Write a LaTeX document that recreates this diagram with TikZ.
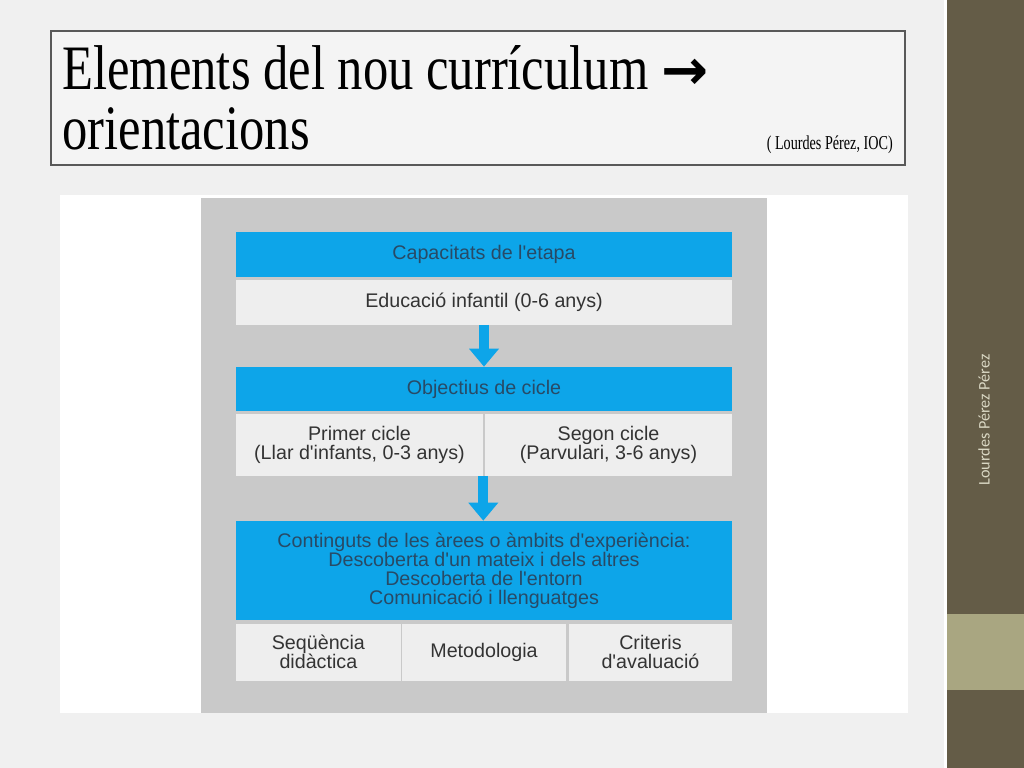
\documentclass[tikz,border=0pt]{standalone}
\usepackage{fontspec}
\usepackage{xcolor}
\usepackage{tikz}
\usetikzlibrary{arrows.meta, positioning}

\setmainfont{Liberation Serif}
\newfontfamily\titlefont[FakeStretch=0.8]{Liberation Serif}
\newfontfamily\sourcefont[FakeStretch=0.72]{Liberation Serif}
\newfontfamily\boxfont{Liberation Sans}
\newfontfamily\sidefont{Carlito}
\newfontfamily\arrowfont{DejaVu Sans}

\definecolor{slidebg}{HTML}{F0F0F0}
\definecolor{titlebg}{HTML}{F4F4F4}
\definecolor{panelgray}{HTML}{C9C9C9}
\definecolor{barblue}{HTML}{0DA5E9}
\definecolor{bartext}{HTML}{284A66}
\definecolor{cellbg}{HTML}{EEEEEE}
\definecolor{celltext}{HTML}{333333}
\definecolor{stripdark}{HTML}{645C47}
\definecolor{striplight}{HTML}{A9A681}
\definecolor{sidetext}{HTML}{DAD8C4}

\begin{document}
\begin{tikzpicture}[
    x=0.025cm, y=-0.025cm,
    bar/.style={rectangle, fill=barblue, text=bartext, minimum width=12.4cm, align=center, inner sep=0pt,
                font=\boxfont\fontsize{14}{13.5}\selectfont},
    cell/.style={rectangle, fill=cellbg, text=celltext, align=center, inner sep=0pt,
                 font=\boxfont\fontsize{14}{13.5}\selectfont},
    bigarrow/.style={barblue, line width=0.25cm, -{Triangle[width=0.72cm, length=0.45cm]}}
]
\useasboundingbox (0,0) rectangle (1024,768);

% Slide background
\fill[slidebg] (0,0) rectangle (1024,768);
\fill[stripdark] (947,0) rectangle (1024,768);
\fill[striplight] (947,614) rectangle (1024,690);
\fill[white] (944,0) rectangle (947,768);

% Title
\draw[fill=titlebg, draw=black!65, line width=0.8pt] (51,31) rectangle (905,165);
\node[anchor=base west, inner sep=0pt] (titleA) at (62,90)
    {\titlefont\fontsize{45}{54}\selectfont Elements del nou currículum {\arrowfont\bfseries\fontsize{40}{44}\selectfont →}};
\node[anchor=base west, inner sep=0pt] (titleB) at (62,150)
    {\titlefont\fontsize{45}{54}\selectfont orientacions};
\node[anchor=base east, inner sep=0pt] (source) at (893,150)
    {\sourcefont\fontsize{14}{16}\selectfont ( Lourdes Pérez, IOC)};

% Side text
\node[rotate=90, text=sidetext, font=\sidefont\fontsize{11.5}{12}\selectfont] (author) at (984,420) {Lourdes Pérez Pérez};

% Picture panel
\fill[white] (60,195) rectangle (908,713);
\fill[panelgray] (201,198) rectangle (767,713);

% Stage
\node[bar, minimum height=1.125cm] (capac) at (484,254.5) {Capacitats de l'etapa};
\node[cell, minimum width=12.4cm, minimum height=1.125cm, below=0.05cm of capac] (educ) {Educació infantil (0-6 anys)};

% Cycles
\node[bar, minimum height=1.1cm] (objec) at (484,389) {Objectius de cicle};
\node[cell, minimum width=6.175cm, minimum height=1.55cm, anchor=north west, yshift=-0.05cm] (primer) at (objec.south west)
    {Primer cicle\\(Llar d'infants, 0-3 anys)};
\node[cell, minimum width=6.175cm, minimum height=1.55cm, anchor=north east, yshift=-0.05cm] (segon) at (objec.south east)
    {Segon cicle\\(Parvulari, 3-6 anys)};

% Contents
\node[bar, minimum height=2.475cm] (contin) at (484,570.5)
    {Continguts de les àrees o àmbits d'experiència:\\Descoberta d'un mateix i dels altres\\Descoberta de l'entorn\\Comunicació i llenguatges};
\node[cell, minimum width=4.12cm, minimum height=1.425cm, anchor=north west, yshift=-0.075cm] (sequen) at (contin.south west)
    {Seqüència\\didàctica};
\node[cell, minimum width=4.1cm, minimum height=1.425cm, anchor=north, yshift=-0.075cm] (metod) at (contin.south)
    {Metodologia};
\node[cell, minimum width=4.08cm, minimum height=1.425cm, anchor=north east, yshift=-0.075cm] (criter) at (contin.south east)
    {Criteris\\d'avaluació};

% Arrows
\draw[bigarrow] (educ) -- (objec);
\draw[bigarrow] (primer.south east) -- (primer.south east |- contin.north);

\end{tikzpicture}
\end{document}
